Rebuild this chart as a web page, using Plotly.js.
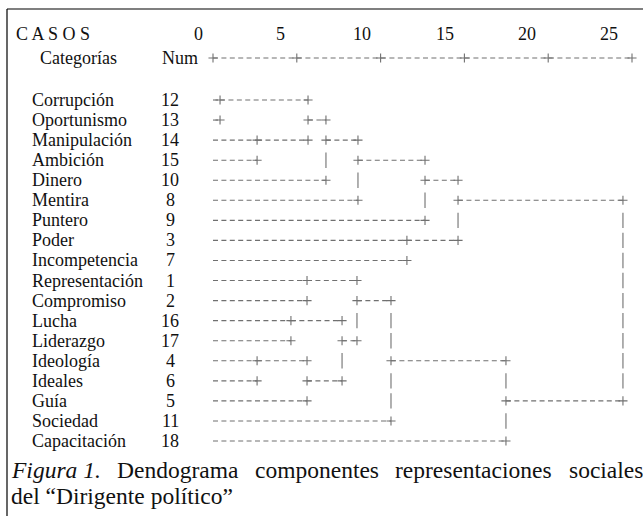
<!DOCTYPE html>
<html><head><meta charset="utf-8">
<script src="https://cdn.plot.ly/plotly-3.0.1.min.js"></script>
<style>html,body{margin:0;padding:0;background:#fff}#chart{width:643px;height:516px}</style>
</head><body><div id="chart"></div>
<script>
const categories = ["Corrupción","Oportunismo","Manipulación","Ambición","Dinero","Mentira","Puntero","Poder","Incompetencia","Representación","Compromiso","Lucha","Liderazgo","Ideología","Ideales","Guía","Sociedad","Capacitación"];
const caseNums = [12,13,14,15,10,8,9,3,7,1,2,16,17,4,6,5,11,18];
// each merge joins the cluster lines on two rows at a rescaled distance
const mergeRowA = [0,2,0,1,2,3,7,4,9,11,13,13,11,9,10,13,5];
const mergeRowB = [1,3,2,4,5,6,8,7,10,12,14,15,14,12,16,17,15];
const mergeDist = [0.42,2.63,5.67,6.74,8.65,12.65,11.57,14.62,5.61,4.65,2.63,5.61,7.70,8.59,10.62,17.48,24.46];
const rulerTicks = [0,5,10,15,20,25];
const headerCases = "C A S O S";
const headerCat = "Categorías";
const headerNum = "Num";
const captionL1Words = ["Figura 1.", "Dendograma", "componentes", "representaciones", "sociales"];
const captionL1Italic = [true, false, false, false, false];
const captionL2 = "del “Dirigente político”";

// geometry (pixels -> data units)
const W = 643, H = 516;
const pxPerUnit = 16.76, x0px = 213;
const rowPx = 20.06, row0px = 100;
const xr = [-x0px/pxPerUnit, (W-x0px)/pxPerUnit];
const yr = [(H-row0px)/rowPx, -row0px/rowPx];
const xd = p => (p - x0px)/pxPerUnit;
const yd = p => (p - row0px)/rowPx;

const gray = "#707070";
const fam = "Liberation Serif, Times New Roman, serif";
const font = {family:fam, size:18, color:"#111"};

// build dendrogram geometry
const start = new Array(categories.length).fill(0);
const hx = [], hy = [];
const px = [], py = [];
const bx = [], by = [];
for (let k = 0; k < mergeDist.length; k++) {
  const a = mergeRowA[k], b = mergeRowB[k], h = mergeDist[k];
  const last = k === mergeDist.length - 1;
  hx.push(start[a], h, null, start[b], h, null);
  hy.push(a, a, null, b, b, null);
  const j = Math.floor((a + b) / 2);
  px.push(h, h); py.push(a, b);
  for (let r = a + 1; r < b; r++) {
    if (r === j && !last) { px.push(h); py.push(r); }
    else { bx.push(h); by.push(r); }
  }
  if (!last) start[j] = h;
}
// ruler
const rulerY = yd(58);
const rx = [rulerTicks[0], rulerTicks[rulerTicks.length-1]];
const ry = [rulerY, rulerY];

const dashLine = {color:gray, width:1.1, dash:"5px,3.4px"};
const plus = {symbol:"cross-thin", size:6.5, line:{color:gray, width:1.1}};
const traces = [
  {x: hx, y: hy, mode:"lines", line:dashLine, hoverinfo:"skip"},
  {x: rx, y: ry, mode:"lines", line:dashLine, hoverinfo:"skip"},
  {x: rulerTicks, y: rulerTicks.map(()=>rulerY), mode:"markers", marker:plus, hoverinfo:"skip"},
  {x: px, y: py, mode:"markers", marker:plus, hoverinfo:"skip"},
  {x: bx, y: by, mode:"markers", marker:{symbol:"line-ns", size:11, line:{color:gray, width:1.1}}, hoverinfo:"skip"}
];

const ann = [];
categories.forEach((c,i)=>{
  ann.push({x: xd(30), y: i, text: c, xanchor:"left", yanchor:"middle", showarrow:false, font});
  ann.push({x: xd(170), y: i, text: String(caseNums[i]), xanchor:"center", yanchor:"middle", showarrow:false, font});
});
rulerTicks.forEach(v=>{
  ann.push({x: v, y: yd(34), text: String(v), xanchor:"center", yanchor:"middle", xshift: -15 - v*0.32, showarrow:false, font});
});
ann.push({x: xd(14), y: yd(34), text: headerCases, xanchor:"left", yanchor:"middle", showarrow:false, font});
ann.push({x: xd(38), y: yd(58), text: headerCat, xanchor:"left", yanchor:"middle", showarrow:false, font});
ann.push({x: xd(160), y: yd(58), text: headerNum, xanchor:"left", yanchor:"middle", showarrow:false, font});

// caption: first line justified between left and right edges
const capSize = 23.5;
const capFont = {family:fam, size:capSize, color:"#111"};
const ctx = document.createElement("canvas").getContext("2d");
const widths = captionL1Words.map((w,i)=>{
  ctx.font = (captionL1Italic[i] ? "italic " : "") + capSize + "px 'Liberation Serif'";
  return ctx.measureText(w).width;
});
const capLeft = 9, capRight = 641;
const gap = Math.max(5, (capRight - capLeft - widths.reduce((s,v)=>s+v,0)) / (captionL1Words.length - 1));
let cx = capLeft;
captionL1Words.forEach((w,i)=>{
  ann.push({x: xd(cx), y: yd(470), text: captionL1Italic[i] ? "<i>"+w+"</i>" : w, xanchor:"left", yanchor:"middle", showarrow:false, font:capFont});
  cx += widths[i] + gap;
});
ann.push({x: xd(capLeft), y: yd(496), text: captionL2, xanchor:"left", yanchor:"middle", showarrow:false, font:capFont});

const layout = {
  width: W, height: H, margin:{l:0,r:0,t:0,b:0},
  paper_bgcolor:"#fff", plot_bgcolor:"#fff", showlegend:false,
  xaxis:{range: xr, visible:false, fixedrange:true},
  yaxis:{range: yr, visible:false, fixedrange:true},
  annotations: ann,
  shapes:[
    {type:"line", xref:"paper", yref:"paper", x0:7/W, x1:1, y0:1-9/H, y1:1-9/H, line:{color:"#000", width:1.2}},
    {type:"line", xref:"paper", yref:"paper", x0:7/W, x1:7/W, y0:1-9/H, y1:0, line:{color:"#000", width:1.2}}
  ]
};
Plotly.newPlot("chart", traces, layout, {staticPlot:true, displayModeBar:false});
</script></body></html>
